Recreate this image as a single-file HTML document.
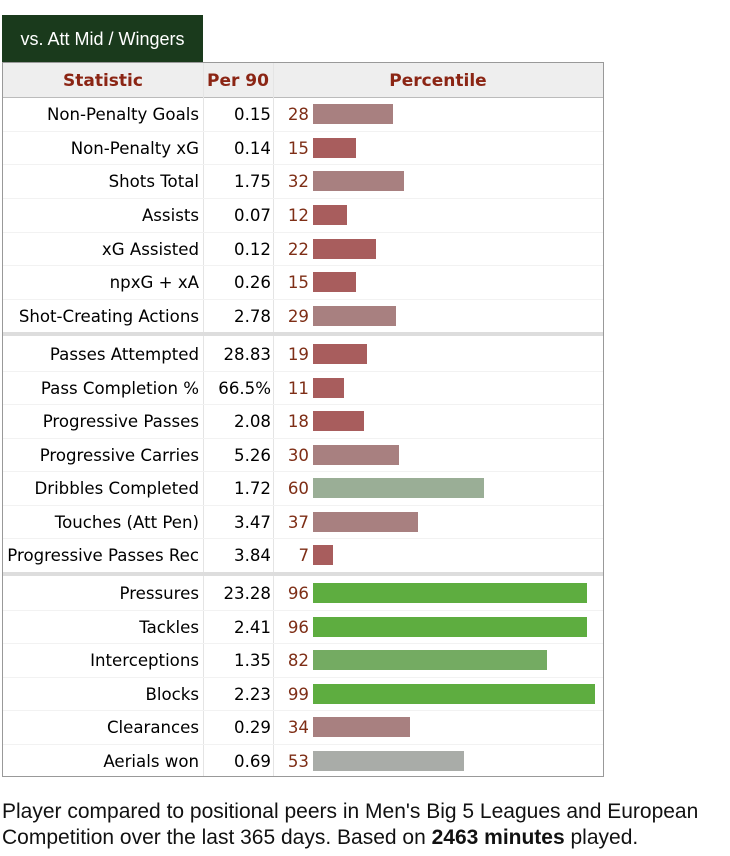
<!DOCTYPE html>
<html><head><style>
body{margin:0;width:730px;height:856px;background:#fff;position:relative;font-family:"DejaVu Sans","Liberation Sans",sans-serif;overflow:hidden}
.tab{position:absolute;left:2px;top:15px;width:201px;height:48px;background:#1a3a1c;color:#fff;font:18px "Liberation Sans",sans-serif;line-height:48px;text-align:center}
.tbl{position:absolute;left:2px;top:62px;width:600px;height:713px;border:1px solid #999}
.hdr{position:absolute;left:0;top:0;width:600px;height:34px;background:#eee;border-bottom:1px solid #bbb}
.h{position:absolute;top:0;line-height:37px;font-weight:bold;color:#8b2514;font-size:17px;text-align:center}
.vl{position:absolute;top:0;height:713px;width:1px;background:#e4e4e4}
.r{position:absolute;height:20px;font-size:16.6px;line-height:22px;border-bottom:0}
.s{position:absolute;right:404px;white-space:nowrap;text-align:right}
.p{position:absolute;right:332px;text-align:right}
.n{position:absolute;left:272px;width:34px;text-align:right;color:#7e2e16}
.b{position:absolute;left:310px;height:20px;top:0}
.ln{position:absolute;left:0;width:600px;height:1px;background:#f2f2f2}
.sep{position:absolute;left:0;width:600px;height:4px;background:#ddd}
.foot{position:absolute;left:2px;top:799px;font:21px "Liberation Sans",sans-serif;line-height:26px;color:#111}
</style></head><body>
<div class="tab">vs. Att Mid / Wingers</div>
<div class="tbl">
<div class="hdr"></div>
<div class="h" style="left:0;width:200px">Statistic</div>
<div class="h" style="left:200px;width:70px">Per 90</div>
<div class="h" style="left:270px;width:330px">Percentile</div>
<div class="vl" style="left:200px"></div>
<div class="vl" style="left:270px"></div>
<div class="sep" style="top:269px"></div>
<div class="sep" style="top:509px"></div>
<div id="rows"></div>
</div>
<div class="foot">Player compared to positional peers in Men's Big 5 Leagues and European<br>Competition over the last 365 days. Based on <b>2463 minutes</b> played.</div>
<script>
var d=[["Non-Penalty Goals","0.15",28],["Non-Penalty xG","0.14",15],["Shots Total","1.75",32],["Assists","0.07",12],["xG Assisted","0.12",22],["npxG + xA","0.26",15],["Shot-Creating Actions","2.78",29],
["Passes Attempted","28.83",19],["Pass Completion %","66.5%",11],["Progressive Passes","2.08",18],["Progressive Carries","5.26",30],["Dribbles Completed","1.72",60],["Touches (Att Pen)","3.47",37],["Progressive Passes Rec","3.84",7],
["Pressures","23.28",96],["Tackles","2.41",96],["Interceptions","1.35",82],["Blocks","2.23",99],["Clearances","0.29",34],["Aerials won","0.69",53]];
function col(p){if(p>=90)return"#5ead40";if(p>=75)return"#74ab62";if(p>=55)return"#9aae96";if(p>=50)return"#a9aca8";if(p>=25)return"#a88080";return"#a85d5d";}
var h="";
d.forEach(function(r,i){var c;if(i<7)c=114+i*33.67;else if(i<14)c=354+(i-7)*33.5;else c=593+(i-14)*33.6;
var t=c-10-63;
if(i!=6&&i!=13&&i!=19)h+='<div class="ln" style="top:'+(t+26.5).toFixed(0)+'px"></div>';
h+='<div class="r" style="top:'+t+'px;left:0;width:600px"><span class="s">'+r[0]+'</span><span class="p">'+r[1]+'</span><span class="n">'+r[2]+'</span><div class="b" style="width:'+(r[2]*2.85).toFixed(0)+'px;background:'+col(r[2])+'"></div></div>';});
document.getElementById("rows").innerHTML=h;
</script>
</body></html>
